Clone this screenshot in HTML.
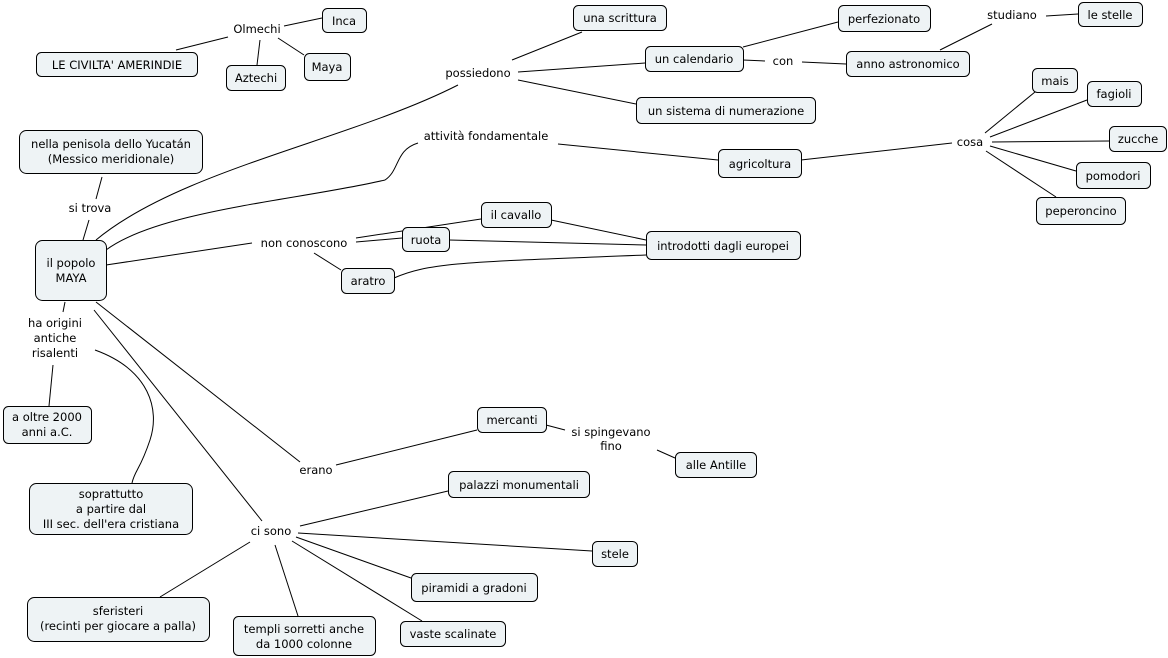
<!DOCTYPE html>
<html><head><meta charset="utf-8"><style>
html,body{margin:0;padding:0;background:#fff;}
svg{display:block;font-family:"DejaVu Sans","Liberation Sans",sans-serif;font-size:11.5px;}
rect{fill:#eef3f5;stroke:#000;stroke-width:1;}
path,line{stroke:#000;stroke-width:1;fill:none;}
text{fill:#000;text-anchor:middle;}
</style></head><body>
<svg width="1168" height="658" viewBox="0 0 1168 658">
<!-- connectors -->
<line x1="176" y1="50" x2="228" y2="37"/>
<line x1="284" y1="26" x2="322" y2="18"/>
<line x1="260" y1="40" x2="257" y2="65"/>
<line x1="278" y1="38" x2="304" y2="55"/>
<path d="M96,240 C180,170 350,140 458,85"/>
<line x1="512" y1="60" x2="582" y2="32"/>
<line x1="518" y1="72" x2="645" y2="63"/>
<line x1="518" y1="80" x2="636" y2="104"/>
<line x1="743" y1="47" x2="838" y2="22"/>
<line x1="743" y1="60" x2="765" y2="61"/>
<line x1="802" y1="62" x2="846" y2="64"/>
<line x1="940" y1="50" x2="992" y2="24"/>
<line x1="1046" y1="16" x2="1078" y2="14"/>
<path d="M106,250 C160,210 300,200 385,180 C400,170 395,150 418,143"/>
<line x1="558" y1="144" x2="718" y2="160"/>
<line x1="801" y1="160" x2="952" y2="143"/>
<line x1="985" y1="133" x2="1035" y2="92"/>
<line x1="990" y1="137" x2="1087" y2="100"/>
<line x1="992" y1="142" x2="1109" y2="141"/>
<line x1="990" y1="146" x2="1076" y2="171"/>
<line x1="986" y1="151" x2="1056" y2="197"/>
<line x1="102" y1="177" x2="96" y2="199"/>
<line x1="89" y1="220" x2="83" y2="240"/>
<line x1="106" y1="265" x2="252" y2="243"/>
<line x1="356" y1="238" x2="481" y2="219"/>
<line x1="356" y1="242" x2="402" y2="238"/>
<line x1="314" y1="253" x2="341" y2="270"/>
<line x1="551" y1="220" x2="646" y2="240"/>
<line x1="449" y1="240" x2="646" y2="245"/>
<path d="M394,278 C430,262 470,262 646,255"/>
<line x1="65" y1="302" x2="63" y2="312"/>
<line x1="53" y1="365" x2="49" y2="406"/>
<path d="M95,350 C150,370 160,410 150,440 C140,470 135,470 132,483"/>
<line x1="96" y1="302" x2="300" y2="462"/>
<line x1="336" y1="465" x2="477" y2="430"/>
<line x1="546" y1="425" x2="565" y2="430"/>
<line x1="657" y1="450" x2="675" y2="458"/>
<line x1="94" y1="310" x2="262" y2="521"/>
<line x1="300" y1="526" x2="448" y2="491"/>
<line x1="298" y1="533" x2="592" y2="551"/>
<line x1="296" y1="537" x2="411" y2="578"/>
<line x1="292" y1="541" x2="422" y2="621"/>
<line x1="250" y1="542" x2="160" y2="597"/>
<line x1="275" y1="545" x2="298" y2="616"/>
<!-- boxes -->
<rect x="322.5" y="8.5" width="44" height="24" rx="5"/><text x="344" y="25">Inca</text>
<rect x="36.5" y="52.5" width="161" height="24" rx="5"/><text x="117" y="69">LE CIVILTA' AMERINDIE</text>
<rect x="226.5" y="65.5" width="59" height="25" rx="5"/><text x="256" y="82">Aztechi</text>
<rect x="304.5" y="53.5" width="46" height="27" rx="5"/><text x="327" y="71">Maya</text>
<rect x="573.5" y="5.5" width="93" height="25" rx="5"/><text x="620" y="22">una scrittura</text>
<rect x="838.5" y="5.5" width="92" height="26" rx="5"/><text x="884" y="23">perfezionato</text>
<rect x="1078.5" y="2.5" width="64" height="24" rx="5"/><text x="1110" y="19">le stelle</text>
<rect x="645.5" y="46.5" width="98" height="25" rx="5"/><text x="694" y="63">un calendario</text>
<rect x="846.5" y="51.5" width="123" height="25" rx="5"/><text x="908" y="68">anno astronomico</text>
<rect x="636.5" y="97.5" width="179" height="26" rx="5"/><text x="726" y="115">un sistema di numerazione</text>
<rect x="1032.5" y="68.5" width="45" height="24" rx="5"/><text x="1055" y="85">mais</text>
<rect x="1087.5" y="81.5" width="54" height="25" rx="5"/><text x="1114" y="98">fagioli</text>
<rect x="1109.5" y="126.5" width="57" height="25" rx="5"/><text x="1138" y="143">zucche</text>
<rect x="1076.5" y="162.5" width="74" height="26" rx="5"/><text x="1113" y="180">pomodori</text>
<rect x="1036.5" y="197.5" width="89" height="27" rx="5"/><text x="1081" y="215">peperoncino</text>
<rect x="718.5" y="149.5" width="83" height="28" rx="5"/><text x="760" y="168">agricoltura</text>
<rect x="19.5" y="130.5" width="183" height="43" rx="7"/><text x="111" y="148">nella penisola dello Yucatán</text><text x="111" y="163">(Messico meridionale)</text>
<rect x="35.5" y="240.5" width="71" height="60" rx="7"/><text x="71" y="267">il popolo</text><text x="71" y="282">MAYA</text>
<rect x="481.5" y="202.5" width="70" height="25" rx="5"/><text x="516" y="219">il cavallo</text>
<rect x="402.5" y="227.5" width="47" height="24" rx="5"/><text x="426" y="244">ruota</text>
<rect x="646.5" y="231.5" width="154" height="28" rx="5"/><text x="723" y="250">introdotti dagli europei</text>
<rect x="341.5" y="268.5" width="53" height="25" rx="5"/><text x="368" y="285">aratro</text>
<rect x="3.5" y="406.5" width="88" height="37" rx="5"/><text x="47" y="421">a oltre 2000</text><text x="47" y="436">anni a.C.</text>
<rect x="29.5" y="483.5" width="163" height="51" rx="7"/><text x="111" y="498">soprattutto</text><text x="111" y="513">a partire dal</text><text x="111" y="528">III sec. dell'era cristiana</text>
<rect x="477.5" y="407.5" width="69" height="25" rx="5"/><text x="512" y="424">mercanti</text>
<rect x="675.5" y="452.5" width="81" height="25" rx="5"/><text x="716" y="469">alle Antille</text>
<rect x="448.5" y="471.5" width="141" height="26" rx="5"/><text x="519" y="489">palazzi monumentali</text>
<rect x="592.5" y="541.5" width="45" height="25" rx="5"/><text x="615" y="558">stele</text>
<rect x="411.5" y="573.5" width="126" height="28" rx="5"/><text x="474" y="592">piramidi a gradoni</text>
<rect x="27.5" y="597.5" width="182" height="44" rx="7"/><text x="118" y="615">sferisteri</text><text x="118" y="630">(recinti per giocare a palla)</text>
<rect x="233.5" y="616.5" width="142" height="39" rx="5"/><text x="304" y="633">templi sorretti anche</text><text x="304" y="648">da 1000 colonne</text>
<rect x="400.5" y="621.5" width="105" height="25" rx="5"/><text x="453" y="638">vaste scalinate</text>
<!-- linking phrases -->
<text x="257" y="33">Olmechi</text>
<text x="478" y="77">possiedono</text>
<text x="783" y="65">con</text>
<text x="1012" y="19">studiano</text>
<text x="486" y="140">attività fondamentale</text>
<text x="970" y="146">cosa</text>
<text x="90" y="212">si trova</text>
<text x="304" y="247">non conoscono</text>
<text x="55" y="327">ha origini</text><text x="55" y="342">antiche</text><text x="55" y="357">risalenti</text>
<text x="316" y="474">erano</text>
<text x="611" y="436">si spingevano</text><text x="611" y="450">fino</text>
<text x="271" y="535">ci sono</text>
</svg>
</body></html>
